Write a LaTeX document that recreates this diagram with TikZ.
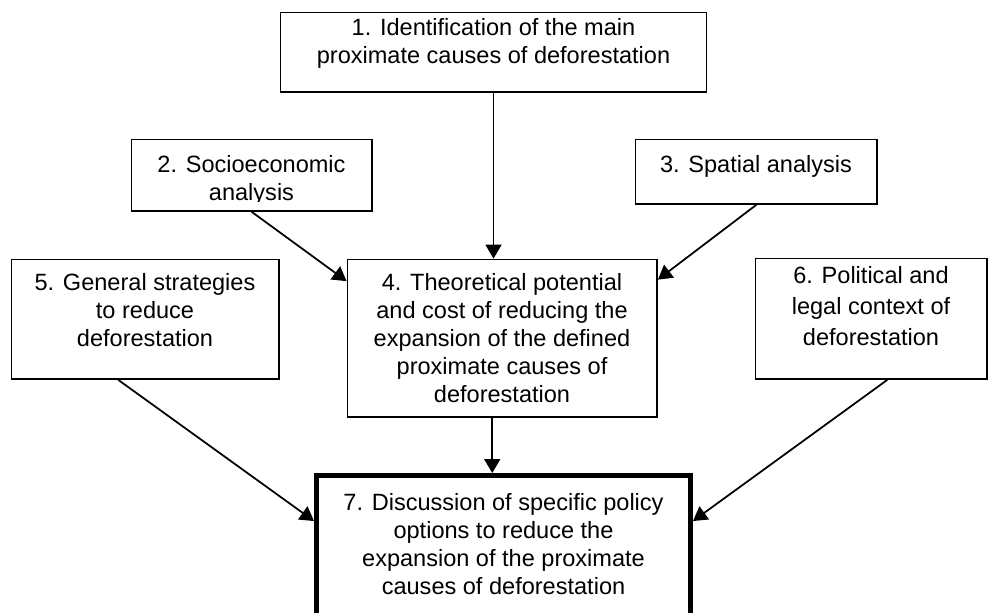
\documentclass[tikz,border=0pt]{standalone}
\usepackage{fontspec}
\setmainfont{Liberation Sans}
\usetikzlibrary{arrows.meta,fit,calc}

\begin{document}
\begin{tikzpicture}[x=0.02cm, y=-0.02cm,
  box/.style={draw, line width=1pt, inner sep=0pt},
  mainbox/.style={draw, line width=2.8pt, inner sep=0pt},
  txt/.style={anchor=north, inner sep=0pt, align=center, font=\fontsize{13.4pt}{15.9pt}\selectfont},
  arr/.style={line width=1pt, -{Triangle[length=0.28cm, width=0.32cm]}}]
\clip (0,0) rectangle (989,612);
\node[box, fit={(280.5,12.5) (706.5,92)}] (b1) {};
\node[box, fit={(131.5,139.5) (372,211)}] (b2) {};
\node[box, fit={(635.5,139.5) (877,204)}] (b3) {};
\node[box, fit={(347.5,259.5) (657,417)}] (b4) {};
\node[box, fit={(11.5,259.5) (279,379)}] (b5) {};
\node[box, fit={(755.5,258.5) (987,379)}] (b6) {};
\node[mainbox, fit={(316.5,475.5) (690.5,660)}] (b7) {};
\node[txt] (t1) at (493.5,18) {1. Identification of the main\\proximate causes of deforestation};
\begin{scope}
\clip (131,139) rectangle (372,201.5);
\node[txt] (t2) at (251.5,155) {2. Socioeconomic\\analysis};
\end{scope}
\node[txt] (t3) at (756,155) {3. Spatial analysis};
\node[txt] (t4) at (502,273) {4. Theoretical potential\\and cost of reducing the\\expansion of the defined\\proximate causes of\\deforestation};
\node[txt] (t5) at (145,273) {5. General strategies\\to reduce\\deforestation};
\node[txt, font=\fontsize{13.4pt}{17.6pt}\selectfont] (t6) at (871,266) {6. Political and\\legal context of\\deforestation};
\node[txt] (t7) at (503.5,493) {7. Discussion of specific policy\\options to reduce the\\expansion of the proximate\\causes of deforestation};
\coordinate (m) at ($(b4.south)+(-10,0)$);
\draw[arr] (b1.south) -- (b1.south |- b4.north);
\draw[arr] (b2.south) -- ($(b4.north west)+(0,22.5)$);
\draw[arr] (b3.south) -- ($(b4.north east)+(0,21)$);
\draw[arr] (m) -- (m |- b7.north);
\draw[arr] ($(b5.south)+(-27,0)$) -- ($(b7.north west)+(0,48)$);
\draw[arr] ($(b6.south)+(16,0)$) -- ($(b7.north east)+(0,48)$);
\end{tikzpicture}
\end{document}
